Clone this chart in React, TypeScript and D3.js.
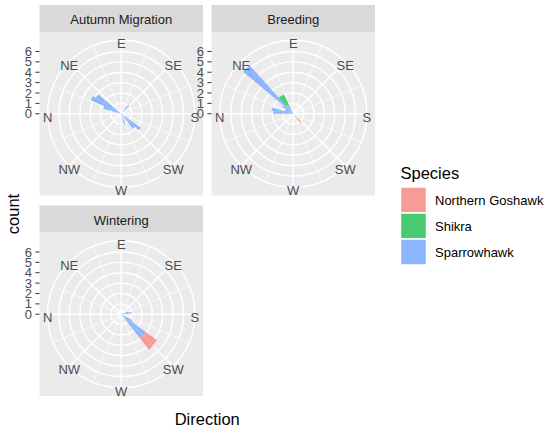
import React, { useRef, useEffect } from "react";
import * as d3 from "d3";

// facets, species and scales
const facetNames = ["Autumn Migration", "Breeding", "Wintering"];
const speciesNames = ["Northern Goshawk", "Shikra", "Sparrowhawk"];
const speciesColors = ["#F8766D", "#00BA38", "#619CFF"];
const dirBreaks = [0, 45, 90, 135, 180, 225, 270, 315];
const dirLabels = ["N", "NE", "E", "SE", "S", "SW", "W", "NW"];
const countTicks = [0, 1, 2, 3, 4, 5, 6];
const binWidth = 8;

// bin starts (degrees) and counts
const autumnSparrowBins = [16, 24, 32, 128, 216, 224, 248];
const autumnSparrowCounts = [1.8, 3.2, 2.9, 1.1, 2.3, 1.8, 1.1];

const breedingSparrowBins = [0, 8, 16, 24, 32, 40, 48, 56];
const breedingSparrowCounts = [1.95, 2.1, 0.9, 0.8, 1.2, 6.3, 1.0, 0.9];
const breedingShikraBins = [48, 56];
const breedingShikraCounts = [1.1, 1.15];
const breedingGoshawkBins = [224];
const breedingGoshawkCounts = [1.1];

const winterSparrowBins = [160, 168, 208, 216, 224];
const winterSparrowCounts = [0.7, 1.0, 1.2, 2.85, 2.85];
const winterGoshawkBins = [216, 224];
const winterGoshawkCounts = [1.4, 1.45];

const series = [
  { facet: 0, sp: 2, bins: autumnSparrowBins, counts: autumnSparrowCounts },
  { facet: 1, sp: 2, bins: breedingSparrowBins, counts: breedingSparrowCounts },
  { facet: 1, sp: 1, bins: breedingShikraBins, counts: breedingShikraCounts },
  { facet: 1, sp: 0, bins: breedingGoshawkBins, counts: breedingGoshawkCounts },
  { facet: 2, sp: 2, bins: winterSparrowBins, counts: winterSparrowCounts },
  { facet: 2, sp: 0, bins: winterGoshawkBins, counts: winterGoshawkCounts },
];

const font = "'Liberation Sans', Arial, sans-serif";

function App() {
  const svgRef = useRef<SVGSVGElement>(null);

  useEffect(() => {
    const svg = d3.select(svgRef.current);
    svg.selectAll("*").remove();

    const size = 163.5;
    const stripH = 27;
    const panelX = [39.5, 211.5, 39.5];
    const panelY = [32, 32, 232.5];

    // stack: Sparrowhawk inside, then Shikra, then Goshawk outside
    const bars: any[] = [];
    facetNames.forEach((f, fi) => {
      const base: Record<number, number> = {};
      [2, 1, 0].forEach(sp => {
        series.filter(s => s.facet === fi && s.sp === sp).forEach(s => {
          s.bins.forEach((b, i) => {
            const y0 = base[b] || 0;
            const y1 = y0 + s.counts[i];
            base[b] = y1;
            bars.push({ facet: fi, sp, x0: b, x1: b + binWidth, y0, y1 });
          });
        });
      });
    });

    const rMax = d3.max(bars, d => d.y1);
    const r = d3.scaleLinear().domain([0, rMax]).range([0, 0.4 * size]);
    const theta = d3.scaleLinear().domain([0, 360]).range([-Math.PI / 2, 1.5 * Math.PI]);
    const outerR = 0.45 * size;
    const arc = d3.arc();

    facetNames.forEach((name, fi) => {
      const px = panelX[fi], py = panelY[fi];
      const cx = px + size / 2, cy = py + size / 2;

      // strip
      svg.append("rect").attr("x", px).attr("y", py - stripH)
        .attr("width", size).attr("height", stripH).attr("fill", "#D9D9D9");
      svg.append("text").attr("x", cx).attr("y", py - stripH + 19)
        .attr("text-anchor", "middle").attr("font-size", 13)
        .attr("fill", "#1A1A1A").text(name);

      // panel
      svg.append("rect").attr("x", px).attr("y", py)
        .attr("width", size).attr("height", size).attr("fill", "#EBEBEB");

      const g = svg.append("g").attr("transform", `translate(${cx},${cy})`);

      // minor spokes
      g.selectAll(".minor").data(dirBreaks.map(d => d + 22.5)).join("line")
        .attr("x1", 0).attr("y1", 0)
        .attr("x2", d => outerR * Math.sin(theta(d)))
        .attr("y2", d => -outerR * Math.cos(theta(d)))
        .attr("stroke", "white").attr("stroke-width", 0.7);
      // major spokes
      g.selectAll(".major").data(dirBreaks).join("line")
        .attr("x1", 0).attr("y1", 0)
        .attr("x2", d => outerR * Math.sin(theta(d)))
        .attr("y2", d => -outerR * Math.cos(theta(d)))
        .attr("stroke", "white").attr("stroke-width", 1.4);
      // circles
      g.selectAll("circle").data(countTicks.filter(t => t > 0).map(t => r(t)).concat(outerR)).join("circle")
        .attr("r", d => d).attr("fill", "none")
        .attr("stroke", "white").attr("stroke-width", 1.4);

      // bars
      g.selectAll("path").data(bars.filter(b => b.facet === fi)).join("path")
        .attr("d", d => arc({
          innerRadius: r(d.y0), outerRadius: r(d.y1),
          startAngle: theta(d.x0) + Math.PI / 2 - Math.PI / 2 + 0, endAngle: theta(d.x1),
        } as any))
        .attr("transform", "")
        .attr("fill", d => speciesColors[d.sp]).attr("fill-opacity", 0.7);

      // direction labels
      g.selectAll(".dir").data(dirBreaks).join("text")
        .attr("x", d => outerR * Math.sin(theta(d)))
        .attr("y", d => -outerR * Math.cos(theta(d)) + 3.3)
        .attr("dy", "0.35em").attr("text-anchor", "middle")
        .attr("font-size", 13).attr("fill", "#4D4D4D")
        .text((d, i) => dirLabels[i]);

      // radial axis on the left of each panel
      const ax = svg.append("g");
      ax.selectAll("line").data(countTicks).join("line")
        .attr("x1", px - 4.1).attr("x2", px)
        .attr("y1", d => cy - r(d)).attr("y2", d => cy - r(d))
        .attr("stroke", "#333333").attr("stroke-width", 1);
      ax.selectAll("text").data(countTicks).join("text")
        .attr("x", px - 7.4).attr("y", d => cy - r(d))
        .attr("dy", "0.35em").attr("text-anchor", "end")
        .attr("font-size", 13).attr("fill", "#4D4D4D").text(d => d);
    });

    // axis titles
    svg.append("text").attr("x", (39.5 + 211.5 + size) / 2).attr("y", 425)
      .attr("text-anchor", "middle").attr("font-size", 16.5).text("Direction");
    svg.append("text").attr("transform", `translate(18.5,${(32 + 232.5 + size) / 2}) rotate(-90)`)
      .attr("text-anchor", "middle").attr("font-size", 16.5).text("count");

    // legend
    const lg = svg.append("g");
    lg.append("text").attr("x", 400.5).attr("y", 178.5)
      .attr("font-size", 16.5).text("Species");
    speciesNames.forEach((s, i) => {
      const ky = 187 + i * 26;
      lg.append("rect").attr("x", 400.5).attr("y", ky).attr("width", 26).attr("height", 26)
        .attr("fill", "#F2F2F2");
      lg.append("rect").attr("x", 400.5).attr("y", ky).attr("width", 26).attr("height", 26)
        .attr("fill", speciesColors[i]).attr("fill-opacity", 0.7)
        .attr("stroke", "white").attr("stroke-width", 1.5);
      lg.append("text").attr("x", 435).attr("y", ky + 13).attr("dy", "0.35em")
        .attr("font-size", 13).text(s);
    });
  }, []);

  return (
    <svg ref={svgRef} width={550} height={430}
      style={{ position: "absolute", left: 0, top: 0, background: "white", fontFamily: font }} />
  );
}

export default App;
